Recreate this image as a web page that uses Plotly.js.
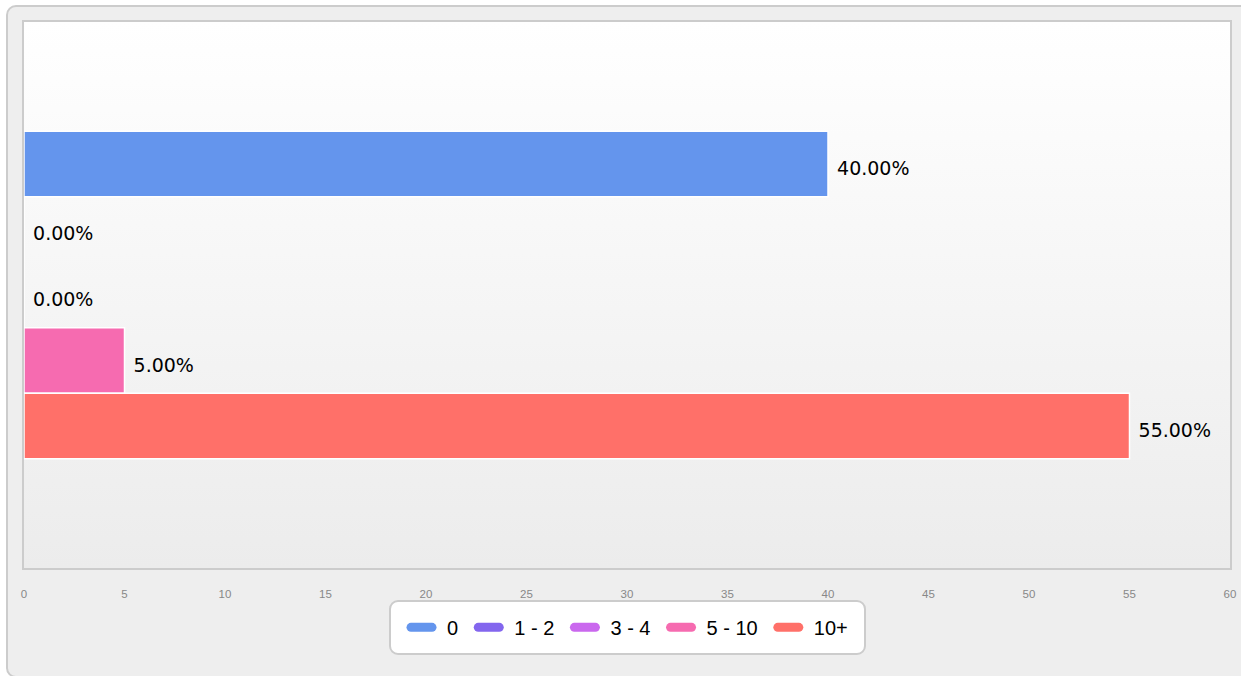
<!DOCTYPE html>
<html>
<head>
<meta charset="utf-8">
<script src="https://cdn.plot.ly/plotly-3.0.1.min.js"></script>
<style>
  html, body { margin: 0; padding: 0; background: #ffffff; width: 1241px; height: 676px; overflow: hidden; }
  #frame { position: absolute; left: 6px; top: 5px; width: 1250px; height: 673px; background: #eeeeee; border: 2px solid #cccccc; border-radius: 10px; box-sizing: border-box; }
  #plotbg { position: absolute; left: 24px; top: 22px; width: 1206px; height: 546px; background: linear-gradient(#ffffff, #ececec); }
  #legbox { position: absolute; left: 389px; top: 600px; width: 477px; height: 55px; background: #ffffff; border: 2px solid #cccccc; border-radius: 9px; box-sizing: border-box; }
  #chart { position: absolute; left: 0; top: 0; width: 1241px; height: 676px; }
  .legendlines path { stroke-linecap: round !important; }
</style>
</head>
<body>
<div id="frame"></div>
<div id="plotbg"></div>
<div id="legbox"></div>
<div id="chart"></div>
<script>
const categories = ['0', '1 - 2', '3 - 4', '5 - 10', '10+'];
const values = [40, 0, 0, 5, 55];
const colors = ['#6495ED', '#8366EE', '#CA68EE', '#F66BB0', '#FF7069'];
const tickVals = [0, 5, 10, 15, 20, 25, 30, 35, 40, 45, 50, 55, 60];
const group = [''];

const traces = [];
categories.forEach((c, i) => {
  traces.push({
    type: 'bar', orientation: 'h', name: c,
    x: [values[i]], y: group,
    marker: { color: colors[i], line: { color: '#ffffff', width: 1.5 } },
    texttemplate: '\u00a0%{x:.2f}%', textposition: 'outside',
    textfont: { family: 'DejaVu Sans', size: 19, color: '#000000' },
    cliponaxis: false, showlegend: false, hoverinfo: 'skip'
  });
});
categories.forEach((c, i) => {
  traces.push({
    type: 'scatter', mode: 'lines', name: '\u00a0' + c + '\u00a0',
    x: [null], y: [null], xaxis: 'x', yaxis: 'y2',
    line: { color: colors[i], width: 9 }, showlegend: true, hoverinfo: 'skip'
  });
});

const layout = {
  width: 1241, height: 676,
  margin: { l: 24, r: 11, t: 22, b: 108 },
  paper_bgcolor: 'rgba(0,0,0,0)',
  plot_bgcolor: 'rgba(0,0,0,0)',
  barmode: 'group', bargap: 0.4, bargroupgap: 0,
  xaxis: {
    range: [0, 60], tickvals: tickVals, ticks: '', showgrid: false, zeroline: false,
    showline: true, mirror: true, linecolor: '#cccccc', linewidth: 2,
    tickfont: { family: 'Liberation Sans, Arial', size: 11.5, color: '#888888' },
    ticklabelstandoff: 14, fixedrange: true
  },
  yaxis: {
    autorange: 'reversed', showticklabels: false, ticks: '', showgrid: false, zeroline: false,
    showline: true, mirror: true, linecolor: '#cccccc', linewidth: 2, fixedrange: true
  },
  yaxis2: { overlaying: 'y', visible: false, range: [0, 1] },
  showlegend: true,
  legend: {
    orientation: 'h', x: 0.5025, xanchor: 'center', y: -0.073, yanchor: 'top',
    bgcolor: 'rgba(0,0,0,0)', borderwidth: 0,
    font: { family: 'Liberation Sans, Arial', size: 20, color: '#000000' },
    itemwidth: 30, traceorder: 'normal'
  }
};

Plotly.newPlot('chart', traces, layout, { displayModeBar: false, staticPlot: true }).then(() => {
  document.querySelectorAll('#chart .legendlines path').forEach(p => p.setAttribute('d', 'M9.5,0h21'));
  document.querySelectorAll('#chart text.bartext').forEach(t => {
    const y = parseFloat(t.getAttribute('y') || '0');
    t.setAttribute('y', String(y + 4));
  });
});
</script>
</body>
</html>
